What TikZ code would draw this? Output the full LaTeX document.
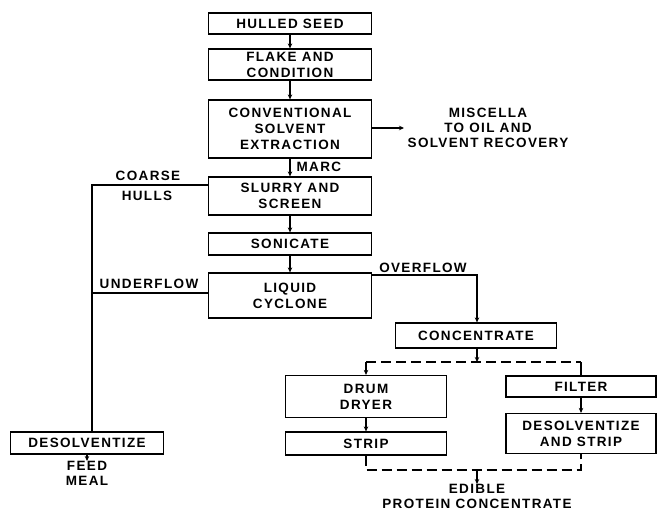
\documentclass[tikz,border=0pt]{standalone}
\usepackage{fontspec}
\setmainfont{Liberation Sans}[LetterSpace=10]
\usetikzlibrary{arrows.meta}

\begin{document}
\begin{tikzpicture}[x=1pt,y=-1pt,line width=1.2pt,
		>={Stealth[length=5pt,width=4.5pt]},
		every node/.style={font=\fontsize{13.5}{16}\selectfont\bfseries,align=center,inner sep=0pt},
		box/.style={draw,minimum height=#1},
		col/.style={minimum width=163pt},
		lab/.style={font=\fontsize{13.5}{15}\selectfont\bfseries},
		link/.style={dash pattern=on 10pt off 5pt}]
		\useasboundingbox (0,0) rectangle (657,516);
		% main column
		\node[box=21pt,col] (seed) at (290,23.5) {HULLED SEED};
		\node[box=31pt,col] (flake) at (290,64.5) {FLAKE AND\\CONDITION};
		\node[box=58pt,col] (extract) at (290,129) {CONVENTIONAL\\SOLVENT\\EXTRACTION};
		\node[box=38pt,col] (slurry) at (290,196) {SLURRY AND\\SCREEN};
		\node[box=22pt,col] (sonicate) at (290,244) {SONICATE};
		\node[box=45pt,col] (cyclone) at (290,295.5) {LIQUID\\CYCLONE};
		% right branch
		\node[box=25pt,minimum width=161pt] (conc) at (476,335.5) {CONCENTRATE};
		\node[box=42pt,minimum width=161pt] (drum) at (366,396.5) {DRUM\\DRYER};
		\node[box=23pt,minimum width=161pt] (strip) at (366,443.5) {STRIP};
		\node[box=21pt,minimum width=150pt] (filter) at (581,386.5) {FILTER};
		\node[box=40pt,minimum width=150pt] (desstrip) at (581,433.5) {DESOLVENTIZE\\AND STRIP};
		% left branch
		\node[box=22pt,minimum width=153pt] (desolv) at (87,443) {DESOLVENTIZE};
		% free texts
		\node[lab] (miscella) at (488,128) {MISCELLA\\TO OIL AND\\SOLVENT RECOVERY};
		\node[lab,anchor=west] (marc) at (296,167) {MARC};
		\node[lab] (coarse) at (148,176) {COARSE};
		\node[lab] (hulls) at (147,196) {HULLS};
		\node[lab] (under) at (149,284) {UNDERFLOW};
		\node[lab] (over) at (423,268) {OVERFLOW};
		\node[lab,anchor=north] (feed) at (87,461) {FEED\\MEAL};
		\node[lab,anchor=north] (edible) at (477,484) {EDIBLE\\PROTEIN CONCENTRATE};
		\coordinate (misc) at (404,128);
		\coordinate (hc) at (92,185);
		\coordinate (uf) at (92,293);
		\coordinate (of) at (477,275);
		\coordinate (split) at (477,362);
		\coordinate (join) at (477,470);
		% connectors
		\draw[->] (seed) -- (flake);
		\draw[->] (flake) -- (extract);
		\draw[->] (extract) -- (slurry);
		\draw[->] (slurry) -- (sonicate);
		\draw[->] (sonicate) -- (cyclone);
		\draw[->] (extract.east |- misc) -- (misc);
		\draw (slurry.west |- hc) -- (hc) -- (hc |- desolv.north);
		\draw (cyclone.west |- uf) -- (uf);
		\draw[->] (cyclone.east |- of) -- (of) -- (conc.north -| of);
		\draw[->] (conc.south -| split) -- (split);
		\draw[link] (drum.north |- split) -- (filter.north |- split);
		\draw[->] (drum.north |- split) -- (drum.north);
		\draw (filter.north |- split) -- (filter.north);
		\draw[->] (drum) -- (strip);
		\draw[->] (filter) -- (desstrip);
		\draw[link] (strip.south) |- (join) -| (desstrip.south);
		\draw[->] (join) -- (edible);
		\draw[->] (desolv) -- (feed);
	\end{tikzpicture}
\end{document}
